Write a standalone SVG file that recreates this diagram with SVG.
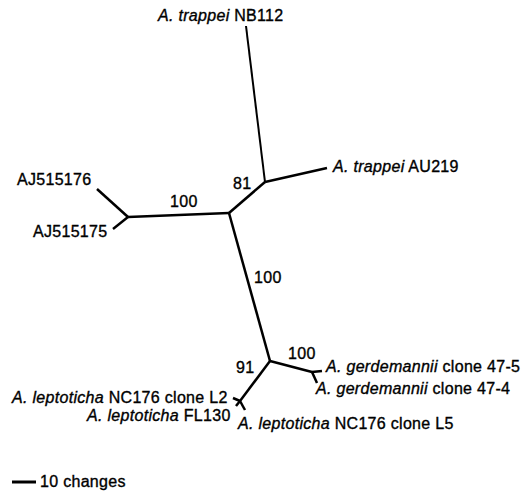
<svg xmlns="http://www.w3.org/2000/svg" width="530" height="493" viewBox="0 0 530 493">
<style>
text{font-family:"Liberation Sans",Arial,Helvetica,sans-serif;font-size:16px;letter-spacing:0.3px;fill:#000;stroke:#000;stroke-width:0.35}
.i{font-style:italic}
.br{stroke:#000;stroke-width:2.5;fill:none;stroke-linecap:butt;stroke-linejoin:round}
.thin{stroke-width:2}
</style>
<rect width="530" height="493" fill="#fff"/>
<g id="connectors">
<line class="br thin" x1="246" y1="26" x2="265" y2="182"/>
<line class="br" x1="265" y1="182" x2="327" y2="168"/>
<line class="br" x1="265" y1="182" x2="229" y2="213"/>
<line class="br" x1="229" y1="213" x2="128" y2="217"/>
<line class="br" x1="128" y1="217" x2="97" y2="189"/>
<line class="br" x1="128" y1="217" x2="113" y2="229"/>
<line class="br" x1="229" y1="213" x2="270" y2="361"/>
<line class="br" x1="270" y1="361" x2="312" y2="372"/>
<line class="br" x1="312" y1="372" x2="322" y2="371"/>
<line class="br" x1="312" y1="372" x2="317" y2="383"/>
<line class="br" x1="270" y1="361" x2="240" y2="401"/>
<line class="br" x1="240" y1="401" x2="233" y2="398"/>
<line class="br" x1="240" y1="401" x2="236" y2="406"/>
<line class="br" x1="240" y1="401" x2="245" y2="410"/>
<line x1="12" y1="482" x2="36" y2="482" stroke="#000" stroke-width="3"/>
</g>
<g id="n-nb112"><text x="158" y="21"><tspan class="i">A. trappei</tspan> NB112</text></g>
<g id="n-au219"><text x="333" y="172"><tspan class="i">A. trappei</tspan> AU219</text></g>
<g id="n-aj515176"><text x="17" y="185">AJ515176</text></g>
<g id="n-aj515175"><text x="33" y="237">AJ515175</text></g>
<g id="n-g475"><text x="326" y="372"><tspan class="i">A. gerdemannii</tspan> clone 47-5</text></g>
<g id="n-g474"><text x="316" y="394"><tspan class="i">A. gerdemannii</tspan> clone 47-4</text></g>
<g id="n-l2"><text x="12" y="403"><tspan class="i">A. leptoticha</tspan> NC176 clone L2</text></g>
<g id="n-fl130"><text x="87" y="421"><tspan class="i">A. leptoticha</tspan> FL130</text></g>
<g id="n-l5"><text x="238" y="429"><tspan class="i">A. leptoticha</tspan> NC176 clone L5</text></g>
<g id="support">
<text x="233" y="189">81</text>
<text x="170" y="207">100</text>
<text x="254" y="283">100</text>
<text x="288" y="359">100</text>
<text x="236" y="373">91</text>
</g>
<g id="scale"><text x="40" y="487">10 changes</text></g>
</svg>
